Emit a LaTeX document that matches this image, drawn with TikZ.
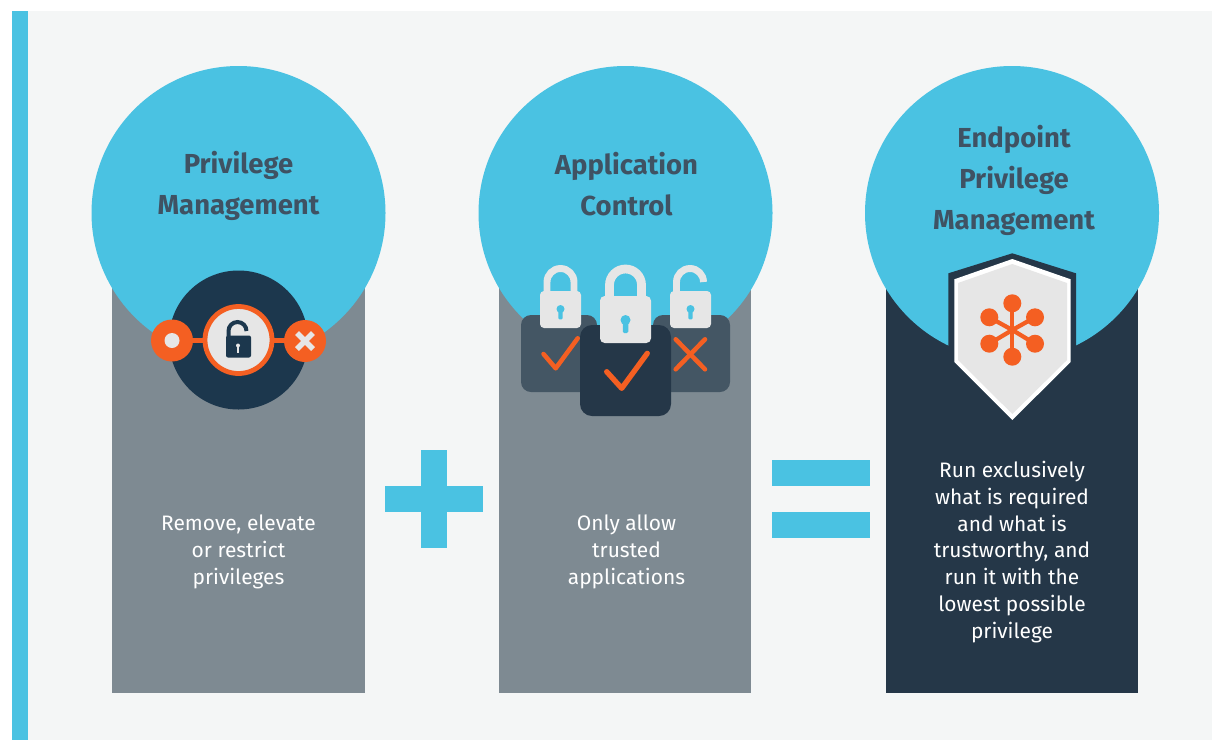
\documentclass[tikz,border=0pt]{standalone}
\usepackage{fontspec}
\setmainfont{Fira Sans}
\definecolor{skyblue}{HTML}{4AC2E2}
\definecolor{panelbg}{HTML}{F4F6F6}
\definecolor{slategrey}{HTML}{7E8A92}
\definecolor{navy}{HTML}{253748}
\definecolor{deepnavy}{HTML}{1C374D}
\definecolor{midnavy}{HTML}{445664}
\definecolor{titleink}{HTML}{3F5263}
\definecolor{flame}{HTML}{F45F22}
\definecolor{lockgrey}{HTML}{E6E6E6}
\tikzset{
  titletext/.style={text=titleink,align=center,font=\fontsize{20.6}{30.75}\selectfont\bfseries},
  bodytext/.style={text=white,align=center,font=\fontsize{15.7}{20.1}\selectfont},
  shackle/.style={draw=lockgrey,line cap=butt},
  stroke/.style={draw=flame,line cap=round,line join=round}
}
\begin{document}
\begin{tikzpicture}[x=0.75pt,y=-0.75pt]
    \useasboundingbox (0,0) rectangle (1212,740);
    \fill[white] (0,0) rectangle (1212,740);
    \fill[panelbg] (12,11) rectangle (1212,740);
    \fill[skyblue] (12,11) rectangle (28,740);
    % columns and circles
    \fill[slategrey] (112,280) rectangle (365,693);
    \fill[slategrey] (499,280) rectangle (751,693);
    \fill[navy] (886,280) rectangle (1138,693);
    \foreach \cx in {238.5,625.5,1012}
        \fill[skyblue] (\cx,213) circle (147);
    % plus and equals
    \fill[skyblue] (385,486) rectangle (483,512);
    \fill[skyblue] (421,450) rectangle (447,548);
    \fill[skyblue] (772,460) rectangle (870,486);
    \fill[skyblue] (772,512) rectangle (870,538);
    % privilege icon
    \fill[deepnavy] (238.5,340) circle (69.5);
    \fill[flame] (172,337.5) rectangle (305,343);
    \draw[draw=flame,fill=lockgrey,line width=3.6pt] (238.5,340) circle (33.5);
    \fill[flame] (172,340.5) circle (21);
    \fill[lockgrey] (172,340.5) circle (7.5);
    \fill[flame] (305,341) circle (21);
    \draw[lockgrey,line width=4.2pt] (297,333) -- (313,349);
    \draw[lockgrey,line width=4.2pt] (313,333) -- (297,349);
    \draw[deepnavy,line width=3pt] (228.5,336) -- (228.5,331) arc (180:360:9) -- (246.5,331);
    \fill[deepnavy,rounded corners=1.5pt] (226,335.5) rectangle (251,357.5);
    \fill[lockgrey] (238,345.5) circle (2);
    \fill[lockgrey] (237,346) rectangle (239,353);
    % application icon
    \fill[midnavy,rounded corners=7.5pt] (521,315) rectangle (597,392);
    \fill[midnavy,rounded corners=7.5pt] (653,315) rectangle (730,392);
    \draw[stroke,line width=3.4pt] (543.5,354) -- (555.7,368.3) -- (577.7,338.3);
    \draw[stroke,line width=3.4pt] (675.7,339.3) -- (705,369.3);
    \draw[stroke,line width=3.4pt] (705,339.3) -- (675.7,369.3);
    \fill[navy,rounded corners=9pt] (580,325) rectangle (671,416);
    \draw[stroke,line width=4pt] (606.7,371.7) -- (621.7,388.3) -- (647.3,353.3);
    \draw[shackle,line width=5.2pt] (547,295) -- (547,282) arc (180:360:13.5) -- (574,295);
    \fill[lockgrey,rounded corners=3pt] (540,291) rectangle (581,328);
    \draw[shackle,line width=6.6pt] (609.5,300) -- (609.5,285) arc (180:360:16) -- (641.5,300);
    \fill[lockgrey,rounded corners=3.5pt] (600,296) rectangle (651,343);
    \draw[shackle,line width=5.2pt] (676.5,295) -- (676.5,282) arc (180:360:13.5) -- (703.5,282);
    \fill[lockgrey,rounded corners=3pt] (670,291) rectangle (711,328);
    \foreach \kx/\ky/\kr in {560.5/309/4,690.5/309/4,625.5/320/5}{
        \fill[skyblue] (\kx,\ky) circle (\kr);
        \fill[skyblue,rounded corners=1pt] (\kx-\kr*0.55,\ky) rectangle (\kx+\kr*0.55,\ky+\kr*2.6);
    }
    % shield icon
    \fill[navy] (1012.3,253.3) -- (948.3,273.3) -- (948.3,362) -- (1012.3,427) -- (1076,362) -- (1076,273.3) -- cycle;
    \fill[white] (1012.3,259) -- (954.3,279.3) -- (954.3,362) -- (1012.3,420) -- (1070.7,362) -- (1070.7,279.3) -- cycle;
    \fill[lockgrey] (1012.3,264) -- (958,283) -- (958,360) -- (1012.3,414) -- (1067,360) -- (1067,283) -- cycle;
    \coordinate (hub) at (1012.3,330);
    \foreach \nx/\ny in {1012.3/303.3,1012.3/356.7,989.3/317.3,1035/317.3,989.3/343.7,1035/343.7}{
        \draw[flame,line width=3.2pt] (hub) -- (\nx,\ny);
        \fill[flame] (\nx,\ny) circle (9);
    }
    % texts
    \node[titletext] (titleprivilege) at (238.5,186) {Privilege\\Management};
    \node[titletext] (titleapplication) at (626.5,184) {Application\\Control};
    \node[titletext] (titleendpoint) at (1014,180.5) {Endpoint\\Privilege\\Management};
    \node[bodytext] (bodyprivilege) at (238.5,552) {Remove, elevate\\or restrict\\privileges};
    \node[bodytext] (bodyapplication) at (626.5,552) {Only allow\\trusted\\applications};
    \node[bodytext] (bodyendpoint) at (1012,552) {Run exclusively\\what is required\\and what is\\trustworthy, and\\run it with the\\lowest possible\\privilege};
\end{tikzpicture}
\end{document}
